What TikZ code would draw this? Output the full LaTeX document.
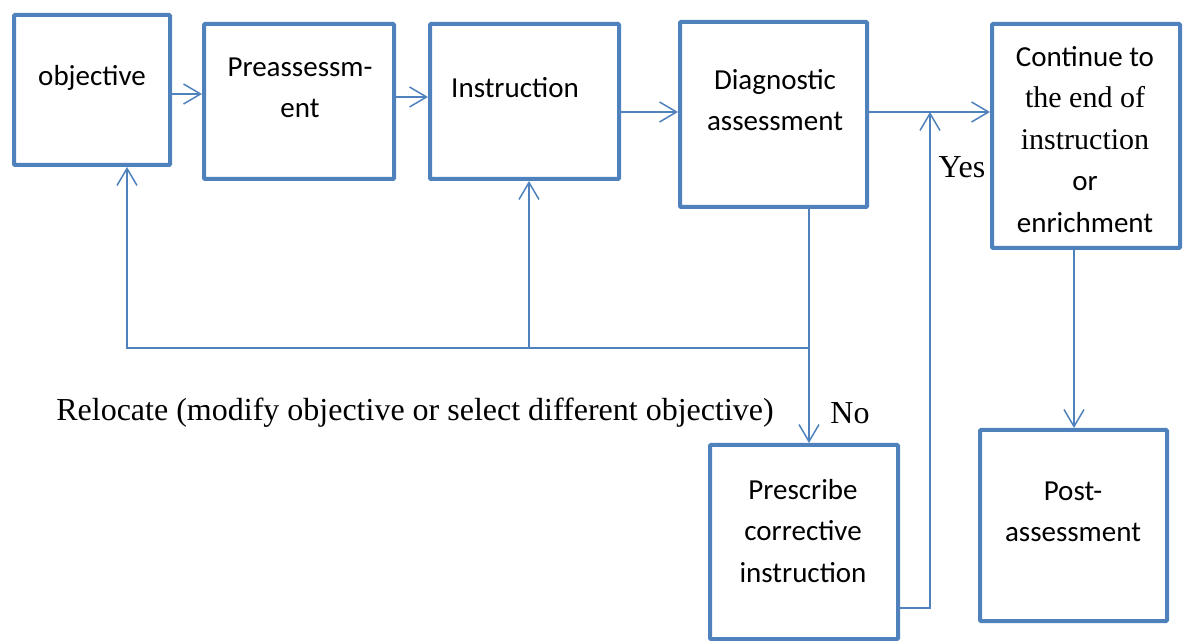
\documentclass[tikz,border=0pt]{standalone}
\usepackage{fontspec}
\setmainfont{Carlito}
\newfontfamily\tnr{Liberation Serif}
\usepackage{xcolor}
\usetikzlibrary{positioning, arrows.meta}
\definecolor{boxblue}{RGB}{79,129,189}

\begin{document}
\begin{tikzpicture}[x=0.5pt, y=-0.5pt,
  box/.style={draw=boxblue, line width=2pt, rounded corners=0.5pt},
  boxtext/.style={align=center, inner sep=0pt, font=\fontsize{14.5}{20.75}\selectfont},
  lbl/.style={inner sep=0pt, font=\tnr\fontsize{16}{19}\selectfont},
  arrow/.style={draw=boxblue, line width=0.75pt, -{Straight Barb[length=8.5pt, width=10pt]}}]
\useasboundingbox (0,0) rectangle (1183,641);
% boxes
\node[box, minimum width=78pt, minimum height=75pt] (obj) at (92,90) {};
\node[box, minimum width=95pt, minimum height=77.5pt] (pre) at (299,101.5) {};
\node[box, minimum width=94.5pt, minimum height=77.5pt] (ins) at (524.5,101.5) {};
\node[box, minimum width=93.5pt, minimum height=92.5pt] (diag) at (773.5,114.5) {};
\node[box, minimum width=94pt, minimum height=112pt] (cont) at (1086,136) {};
\node[box, minimum width=93.5pt, minimum height=95.5pt] (post) at (1073.5,525.5) {};
\node[box, minimum width=94pt, minimum height=97pt] (pres) at (804,542) {};
% box texts
\node[boxtext] (objtxt) at (92,78) {objective};
\node[boxtext] (pretxt) at (300,88) {Preassessm-\\ent};
\node[boxtext] (instxt) at (515,88) {Instruction};
\node[boxtext] (diagtxt) at (775,100) {Diagnostic\\assessment};
\node[inner sep=0pt, font=\fontsize{14.5}{20.75}\selectfont] (conttxt) at (1085,141)
  {\begin{tabular}{@{}c@{}}Continue to\\
   {\tnr\fontsize{15}{20.75}\selectfont the end of}\\
   {\tnr\fontsize{15}{20.75}\selectfont instruction}\\
   or\\ enrichment\end{tabular}};
\node[boxtext] (prestxt) at (803,531) {Prescribe\\corrective\\instruction};
\node[boxtext] (posttxt) at (1073,512) {Post-\\assessment};
% labels
\node[lbl] (yes) at (962,167) {Yes};
\node[lbl] (no) at (850,413) {No};
\node[lbl] (reloc) at (415,413) {Relocate (modify objective or select different objective)};
\coordinate (yesjoin) at (930,112);
% connectors
\draw[arrow] (obj.east |- 0,94) -- (pre.west |- 0,94);
\draw[arrow] (pre.east |- 0,97) -- (ins.west |- 0,97);
\draw[arrow] (ins.east |- 0,112) -- (diag.west |- 0,112);
\draw[arrow] (diag.east |- 0,112) -- (cont.west |- 0,112);
\draw[arrow] (diag.south -| 809,0) -- (pres.north -| 809,0);
\draw[arrow] (diag.south -| 809,0) -- (809,348) -| (obj.south -| 127,0);
\draw[arrow] (529,348) -- (ins.south -| 529,0);
\draw[arrow] (pres.east |- 0,608) -| (yesjoin);
\draw[arrow] (cont.south -| 1074,0) -- (post.north -| 1074,0);
\end{tikzpicture}
\end{document}
